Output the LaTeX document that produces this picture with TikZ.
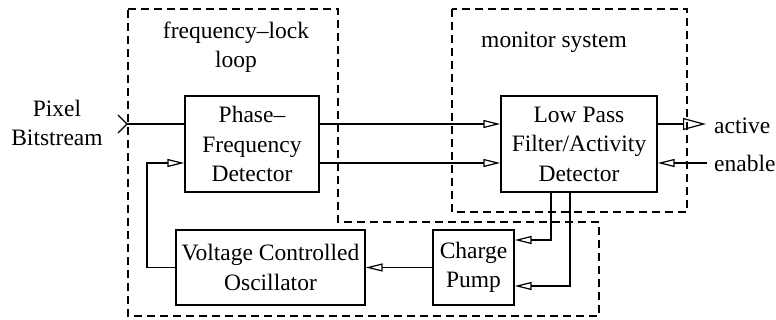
\documentclass[tikz,border=0pt]{standalone}
\usepackage{fontspec}
\setmainfont{Liberation Serif}
\usetikzlibrary{arrows.meta,calc}
\begin{document}
\begin{tikzpicture}[x=1pt,y=-1pt,
  every node/.style={font=\fontsize{23.5}{29.5}\selectfont},
  block/.style={draw,line width=1.3pt,rectangle,align=center,inner sep=0pt},
  wire/.style={line width=1.2pt},
  opentip/.style={wire,-{Triangle[open,length=17pt,width=8pt,line width=1.2pt]}},
  bigtip/.style={wire,-{Triangle[open,length=23pt,width=12pt,line width=1.2pt]}},
  region/.style={line width=1.2pt,dash pattern=on 8pt off 5pt},
  lbl/.style={align=center,inner sep=0pt}]
\useasboundingbox (0,0) rectangle (776,320);

% dashed regions
\draw[region] (128,9) -- (338,9) -- (338,222) -- (599,222) -- (599,316) -- (128,316) -- cycle;
\draw[region] (452,9) rectangle (687,212);

% region titles
\node[lbl] (fll) at (236,47) {frequency–lock\\loop};
\node[lbl] (mon) at (554,42) {monitor system};

% blocks
\node[block,minimum width=134pt,minimum height=96pt] (pfd) at (252,144) {Phase–\\Frequency\\Detector};
\node[block,minimum width=156pt,minimum height=96pt] (lpf) at (579,144) {Low Pass\\Filter/Activity\\Detector};
\node[block,minimum width=189pt,minimum height=75pt] (vco) at (270.5,267.5) {Voltage Controlled\\Oscillator};
\node[block,minimum width=81pt,minimum height=75pt] (cp) at (473.5,267.5) {Charge\\Pump};

% external labels
\node[lbl] (pix) at (57,123) {Pixel\\Bitstream};
\node[lbl,anchor=west] (act) at (714,126) {active};
\node[lbl,anchor=west] (ena) at (714,163) {enable};

% helper levels
\coordinate (r1) at (0,124);
\coordinate (r2) at (0,163);
\coordinate (in) at (127,124);
\coordinate (aout) at (706,124);
\coordinate (ein) at (707,163);
\coordinate (fb) at (147,0);
\coordinate (c1) at (551,0);
\coordinate (c2) at (570,0);
\coordinate (cu) at (0,240);
\coordinate (cl) at (0,286);

% input port mark and signal paths
\draw[wire] ($(in)+(-9,-9)$) -- (in) -- ($(in)+(-9,9)$);
\draw[wire] (in) -- (pfd.west |- r1);
\draw[opentip] (pfd.east |- r1) -- (lpf.west |- r1);
\draw[opentip] (pfd.east |- r2) -- (lpf.west |- r2);
\draw[bigtip] (lpf.east |- r1) -- (aout);
\draw[opentip] (ein) -- (lpf.east |- r2);
\draw[opentip] (c1 |- lpf.south) -- (c1 |- cu) -- (cp.east |- cu);
\draw[opentip] (c2 |- lpf.south) -- (c2 |- cl) -- (cp.east |- cl);
\draw[opentip] (cp.west) -- (vco.east);
\draw[opentip] (vco.west) -- (fb |- vco.west) -- (fb |- r2) -- (pfd.west |- r2);
\end{tikzpicture}
\end{document}
